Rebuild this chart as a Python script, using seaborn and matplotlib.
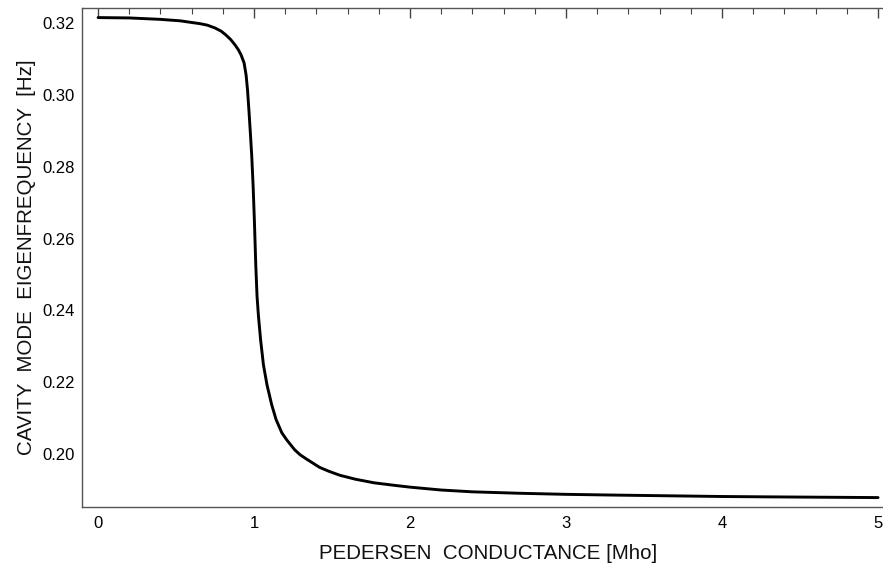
import matplotlib
matplotlib.use("Agg")
import matplotlib.pyplot as plt
from matplotlib.ticker import MultipleLocator, FormatStrFormatter
import seaborn as sns
import pandas as pd

# Values
conductance = [0.0, 0.2, 0.4, 0.526, 0.654, 0.70, 0.75, 0.79, 0.821, 0.85, 0.878,
               0.90, 0.917, 0.936, 0.949, 0.958, 0.968, 0.977, 0.985, 0.994,
               1.002, 1.011, 1.019, 1.028, 1.042, 1.060, 1.083, 1.113, 1.141,
               1.178, 1.21, 1.26, 1.295, 1.34, 1.42, 1.48, 1.55, 1.65, 1.77,
               1.9, 2.0, 2.2, 2.4, 2.7, 3.0, 3.3, 3.65, 4.0, 4.3, 4.65, 5.0]
eigenfreq = [0.3214, 0.3213, 0.3209, 0.3205, 0.3197, 0.3193, 0.3185, 0.3176,
             0.3165, 0.3153, 0.3138, 0.3124, 0.3110, 0.3088, 0.3054, 0.3013,
             0.2950, 0.2888, 0.2830, 0.2745, 0.2650, 0.2526, 0.2440, 0.2385,
             0.2318, 0.2249, 0.2193, 0.2138, 0.2097, 0.2060, 0.2040, 0.2013,
             0.1999, 0.1986, 0.1964, 0.1953, 0.1942, 0.1931, 0.1921, 0.1914,
             0.1909, 0.1901, 0.1896, 0.1892, 0.1889, 0.1887, 0.1885, 0.1883,
             0.1882, 0.1881, 0.1880]

x_ticks = [0, 1, 2, 3, 4, 5]
y_ticks = [0.20, 0.22, 0.24, 0.26, 0.28, 0.30, 0.32]
x_label = "PEDERSEN  CONDUCTANCE [Mho]"
y_label = "CAVITY  MODE  EIGENFREQUENCY  [Hz]"

df = pd.DataFrame({"x": conductance, "y": eigenfreq})

sns.set_theme(style="white")
plt.rcParams["font.family"] = ["Liberation Sans", "DejaVu Sans"]

fig = plt.figure(figsize=(8.83, 5.69), dpi=100)
# frame extends past the right edge of the figure, as in the reference
ax_w_px = 860
ax = fig.add_axes([82 / 883, (569 - 507.3) / 569, ax_w_px / 883, 499.8 / 569])

sns.lineplot(data=df, x="x", y="y", ax=ax, color="black", linewidth=2.1,
             sort=False, estimator=None)

ax.set_xlim(-0.103, -0.103 + ax_w_px / 156)
ax.set_ylim(0.1853, 0.3242)
ax.set_xticks(x_ticks)
ax.set_yticks(y_ticks)
ax.xaxis.set_minor_locator(MultipleLocator(0.2))
ax.yaxis.set_minor_locator(MultipleLocator(0.005))
ax.yaxis.set_major_formatter(FormatStrFormatter("%.2f"))

spine_col = "#555555"
for s in ax.spines.values():
    s.set_color(spine_col)
    s.set_linewidth(1.0)
ax.spines["right"].set_visible(False)

ax.tick_params(which="both", direction="in", top=True, right=False,
               color="#444444", labelcolor="black", labelsize=12)
ax.tick_params(which="major", length=7, width=1.0)
ax.tick_params(which="minor", length=4, width=0.8)
ax.tick_params(axis="x", which="major", pad=6)
ax.tick_params(axis="y", which="major", pad=5)

ax.set_xlabel(x_label, fontsize=14.8, color="#111111")
ax.xaxis.set_label_coords((488 - 82) / ax_w_px, -37 / 499.8)
ax.xaxis.label.set_va("top")
ax.set_ylabel(y_label, fontsize=14.8, color="#111111", labelpad=5)

fig.savefig("out.png", dpi=100, facecolor="white")
